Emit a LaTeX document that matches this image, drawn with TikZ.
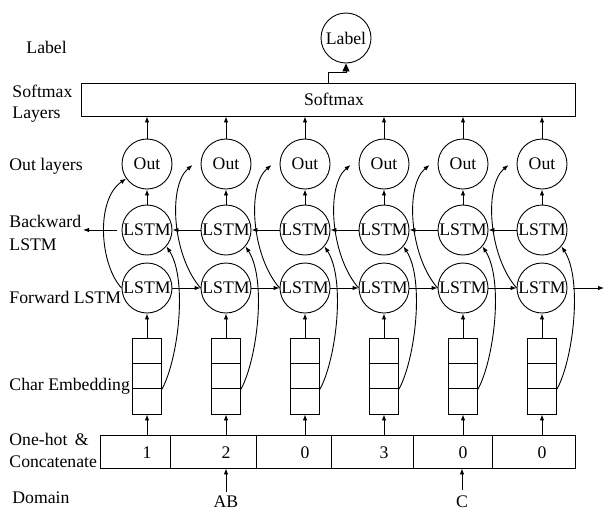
\documentclass[tikz,border=0pt]{standalone}
\usepackage{fontspec}
\setmainfont{Liberation Serif}
\usetikzlibrary{arrows.meta,calc}
\begin{document}
\begin{tikzpicture}[x=1pt,y=-1pt,line width=0.9pt,
  font=\fontsize{17.7}{21}\selectfont,
  cell/.style={circle,draw,minimum size=50pt,inner sep=0pt},
  emb/.style={draw,minimum width=29pt,minimum height=76pt,inner sep=0pt},
  arr/.style={-{Latex[length=6pt,width=4.5pt]}},
  tri/.style={-{Triangle[length=8pt,width=7pt]}},
  lab/.style={anchor=base west,inner sep=0pt},
  num/.style={anchor=base,inner sep=0pt}]
\useasboundingbox (0,0) rectangle (605,512);

% left labels
\node[lab] (l1) at (26,53) {Label};
\node[lab] (l2a) at (12,97) {Softmax};
\node[lab] (l2b) at (12,118) {Layers};
\node[lab] (l3) at (9,170) {Out layers};
\node[lab] (l4a) at (9,227) {Backward};
\node[lab] (l4b) at (9,250) {LSTM};
\node[lab] (l5) at (9,303) {Forward LSTM};
\node[lab] (l6) at (9,390) {Char Embedding};
\node[lab] (l7a) at (9,445) {One-hot \,\&};
\node[lab] (l7b) at (9,467) {Concatenate};
\node[lab] (l8) at (12,503) {Domain};

% softmax and label
\node[draw,minimum width=494pt,minimum height=33pt,inner sep=0pt] (sm) at (328,99.5) {};
\node[inner sep=0pt] (smt) at (334,99) {Softmax};
\node[cell] (lab) at (346,38) {Label};
\draw[tri] (sm.north) -- ++(0,-10) -| (lab.south);

% one-hot box
\node[draw,minimum width=475pt,minimum height=33pt,inner sep=0pt] (oh) at (337.5,451.5) {};
\foreach \d in {71,157,232,314,393}
  \draw ($(oh.north west)+(\d,0)$) -- ($(oh.south west)+(\d,0)$);

% columns
\foreach \i/\cx/\v in {1/147/1,2/226/2,3/305/0,4/384/3,5/463/0,6/542/0}{
  \node[cell] (o\i) at (\cx,164) {Out};
  \node[cell] (b\i) at (\cx,230) {LSTM};
  \node[cell] (f\i) at (\cx,288) {LSTM};
  \node[emb] (e\i) at (\cx,376) {};
  \draw ($(e\i.north west)!1/3!(e\i.south west)$) -- ($(e\i.north east)!1/3!(e\i.south east)$);
  \draw ($(e\i.north west)!2/3!(e\i.south west)$) -- ($(e\i.north east)!2/3!(e\i.south east)$);
  \node[num] (n\i) at (\cx,458) {\v};
  \draw[arr] (oh.north -| e\i.south) -- (e\i.south);
  \draw[arr] (e\i.north) -- (f\i.south);
  \draw[arr] (b\i.north) -- (o\i.south);
  \draw[arr] (o\i.north) -- (o\i.north |- sm.south);
  \draw[arr] ([shift={(0,-25.3)}]e\i.south east) .. controls (\cx+31,360) and (\cx+41,280) .. (b\i.-40);
}

% forward-to-out curves
\draw[arr] (f1.west) .. controls (100,265) and (95,200) .. (o1.215);
\foreach \i/\cx in {2/226,3/305,4/384,5/463,6/542}{
  \coordinate (t\i) at ([shift={(-8,1)}]o\i.west);
  \draw[arr] (f\i.west) .. controls (\cx-54,255) and (\cx-58,185) .. (t\i);
}

% horizontal recurrences
\foreach \i/\j in {1/2,2/3,3/4,4/5,5/6}{
  \draw[arr] (f\i.east) -- (f\j.west);
  \draw[arr] (b\j.west) -- (b\i.east);
}
\coordinate (fend) at (604,288);
\draw[arr] ([xshift=6pt]f6.east) -- (fend);
\coordinate (bend) at (83,230);
\draw[arr] ([xshift=-5pt]b1.west) -- (bend);

% domain
\node[num] (ab) at (226,507) {AB};
\node[num] (c) at (462,507) {C};
\draw[arr] ([shift={(0,-3)}]ab.north) -- (ab.north |- oh.south);
\draw[arr] ([shift={(0,-5)}]c.north) -- (c.north |- oh.south);
\end{tikzpicture}
\end{document}
